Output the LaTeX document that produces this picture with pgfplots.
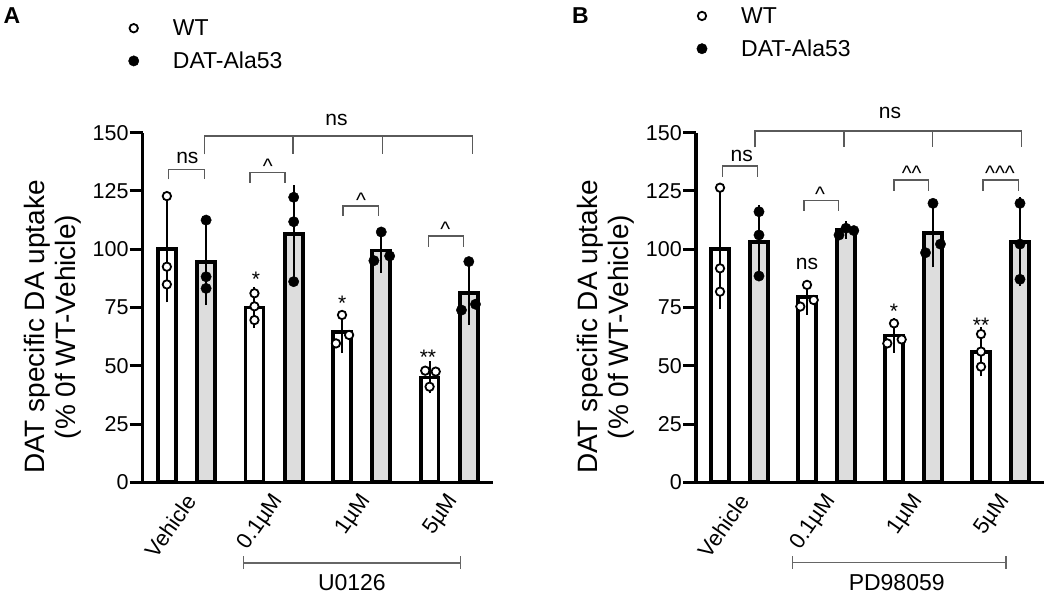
\documentclass[border=0pt]{standalone}
\usepackage{fontspec}
\setmainfont{Liberation Sans}
\usepackage{pgfplots}
\pgfplotsset{compat=1.18}
\definecolor{barGray}{HTML}{DDDDDD}
\definecolor{brk}{HTML}{5A5A5A}
\definecolor{grp}{HTML}{666666}

\pgfplotsset{
  panel/.style={
    scale only axis, height=349.6pt,
    xmin=-0.5, xmax=3.5, ymin=0, ymax=150,
    axis x line=bottom, axis y line=left,
    axis line style={line width=3.2pt, -},
    ytick={0,25,...,150},
    xtick={0,1,2,3},
    xticklabels={Vehicle,0.1µM,1µM,5µM},
    x tick style={draw=none},
    y tick style={line width=3pt, black},
    major tick length=13pt,
    tick align=outside,
    /pgf/number format/assume math mode=true,
    yticklabel style={font=\fontsize{21.5}{24}\selectfont, inner xsep=1pt},
    xticklabel style={font=\fontsize{22}{24}\selectfont, xshift=6pt, rotate=55, anchor=east, inner sep=2pt},
    clip=false,
    every axis y label/.style={rotate=90, anchor=center},
    ylabel style={align=center, font=\fontsize{28}{31}\selectfont},
    ylabel={DAT specific DA uptake\\(\% 0f WT-Vehicle)},
    legend style={draw=none, fill=none, anchor=north west, inner sep=0pt,
      font=\fontsize{23}{26}\selectfont, row sep=11pt,
      /tikz/every odd column/.append style={column sep=32pt}},
    legend cell align=left,
  },
  barbase/.style={ybar, bar width=0.205, bar shift=0, forget plot, draw=black, line width=3.8pt,
    error bars/y dir=both, error bars/y explicit,
    error bars/error bar style={line width=2pt, black},
    error bars/error mark options={line width=2pt, mark size=6pt, black}},
  wtpts/.style={only marks, mark=*, mark size=4.2pt, mark options={fill=white, draw=black, line width=1.8pt}},
  datpts/.style={only marks, mark=*, mark size=5.2pt, mark options={fill=black, draw=black, line width=0.4pt}},
}
\newcommand{\brk}[4]{\draw[brk, line width=1.4pt] (axis cs:#1,#4) -- (axis cs:#1,#3) -- (axis cs:#2,#3) -- (axis cs:#2,#4);}
\newcommand{\annfont}{\fontsize{21}{24}\selectfont}

\begin{document}
\begin{tikzpicture}
\path[use as bounding box] (0pt,0pt) rectangle (1050pt,-597pt);
\node[font=\fontsize{23}{26}\selectfont\bfseries] at (12pt,-15.5pt) {A};
\node[font=\fontsize{23}{26}\selectfont\bfseries] at (580.5pt,-15.5pt) {B};

% ---------------- Panel A ----------------
\begin{axis}[panel, width=350.3pt, at={(142.7pt,-482.3pt)}, anchor=south west,
  ylabel style={at={(axis description cs:-0.257,0.444)}},
  legend style={at={(axis description cs:-0.041,1.33)}}]
\addplot[barbase, fill=white] coordinates {(-0.224,100) +- (0,20.2) (0.776,75) +- (0,6.3) (1.776,64.5) +- (0,6.5) (2.776,45) +- (0,4.3)};
\addplot[barbase, fill=barGray] coordinates {(0.224,94.4) +- (0,15.8) (1.224,106.5) +- (0,18.3) (2.224,99.5) +- (0,7) (3.224,81.3) +- (0,11.2)};
\addplot[wtpts] coordinates {(-0.224,122.8) (-0.224,92.5) (-0.224,84.9)
  (0.776,81.1) (0.776,75.5) (0.776,69.6)
  (1.776,71.8) (1.707,59.6) (1.857,63.2)
  (2.726,47.9) (2.846,47.5) (2.776,41)};
\addlegendentry{WT}
\addplot[datpts] coordinates {(0.224,112.5) (0.224,88.2) (0.224,83.2)
  (1.224,122.3) (1.224,111.8) (1.224,86.1)
  (2.224,107.4) (2.14,95.1) (2.32,97.1)
  (3.224,94.7) (3.14,73.9) (3.30,76.4)};
\addlegendentry{DAT-Ala53}
% brackets
\brk{-0.208}{0.204}{134.3}{130}
\node[font=\annfont, anchor=base] at (axis cs:0.01,136.9) {ns};
\brk{0.204}{3.266}{148.6}{140.7}
\draw[brk, line width=1.4pt] (axis cs:1.215,148.6) -- (axis cs:1.215,140.7);
\draw[brk, line width=1.4pt] (axis cs:2.241,148.6) -- (axis cs:2.241,140.7);
\node[font=\annfont, anchor=base] at (axis cs:1.713,153.3) {ns};
\brk{0.726}{1.123}{132.8}{128.6}
\node[font=\annfont, anchor=base] at (axis cs:0.928,132.4) {\textasciicircum};
\brk{1.789}{2.191}{118.5}{114.4}
\node[font=\annfont, anchor=base] at (axis cs:1.992,118.1) {\textasciicircum};
\brk{2.765}{3.166}{105.7}{101.1}
\node[font=\annfont, anchor=base] at (axis cs:2.956,105.3) {\textasciicircum};
\node[font=\annfont, anchor=base] at (axis cs:0.794,84) {*};
\node[font=\annfont, anchor=base] at (axis cs:1.777,73.8) {*};
\node[font=\annfont, anchor=base] at (axis cs:2.757,50.7) {**};
% group line
\draw[grp, line width=1.5pt] (axis cs:0.649,-34.6) -- (axis cs:3.128,-34.6);
\draw[grp, line width=1.5pt] (axis cs:0.649,-31.8) -- (axis cs:0.649,-37.4);
\draw[grp, line width=1.5pt] (axis cs:3.128,-31.8) -- (axis cs:3.128,-37.4);
\node[font=\fontsize{23}{26}\selectfont] at (axis cs:1.889,-43) {U0126};
\end{axis}

% ---------------- Panel B ----------------
\begin{axis}[panel, width=348pt, at={(696pt,-482.3pt)}, anchor=south west,
  ylabel style={at={(axis description cs:-0.258,0.444)}},
  legend style={at={(axis description cs:0.0017,1.365)}}]
\addplot[barbase, fill=white] coordinates {(-0.224,100) +- (0,23.2) (0.776,79.4) +- (0,5) (1.776,63) +- (0,4.8) (2.776,56) +- (0,8)};
\addplot[barbase, fill=barGray] coordinates {(0.224,103) +- (0,13.5) (1.224,108.3) +- (0,1.2) (2.224,106.8) +- (0,12) (3.224,103.2) +- (0,16.5)};
\addplot[wtpts] coordinates {(-0.224,126.4) (-0.224,91.8) (-0.224,81.8)
  (0.776,84.7) (0.699,75.4) (0.853,78.2)
  (1.776,68.2) (1.699,59.6) (1.864,61.3)
  (2.776,63.6) (2.776,56.1) (2.776,49.6)};
\addlegendentry{WT}
\addplot[datpts] coordinates {(0.224,116.1) (0.224,106.1) (0.224,88.5)
  (1.144,106.1) (1.224,109) (1.314,108)
  (2.224,119.7) (2.138,98.5) (2.31,102.2)
  (3.224,119.7) (3.224,102.2) (3.224,87.1)};
\addlegendentry{DAT-Ala53}
\brk{-0.193}{0.205}{135.8}{131.1}
\node[font=\annfont, anchor=base] at (axis cs:0.025,137.6) {ns};
\brk{0.178}{3.24}{150.8}{143.7}
\draw[brk, line width=1.4pt] (axis cs:1.2,150.8) -- (axis cs:1.2,143.7);
\draw[brk, line width=1.4pt] (axis cs:2.216,150.8) -- (axis cs:2.216,143.7);
\node[font=\annfont, anchor=base] at (axis cs:1.73,156.2) {ns};
\brk{0.741}{1.14}{120.8}{116.5}
\node[font=\annfont, anchor=base] at (axis cs:0.925,120.4) {\textasciicircum};
\brk{1.776}{2.175}{129.7}{125.1}
\node[font=\annfont, anchor=base] at (axis cs:1.979,129.3) {\textasciicircum\textasciicircum};
\brk{2.80}{3.21}{129.7}{125.1}
\node[font=\annfont, anchor=base] at (axis cs:2.994,129.3) {\textasciicircum\textasciicircum\textasciicircum};
\node[font=\annfont, anchor=base] at (axis cs:0.776,91.1) {ns};
\node[font=\annfont, anchor=base] at (axis cs:1.776,70.3) {*};
\node[font=\annfont, anchor=base] at (axis cs:2.776,64.1) {**};
\draw[grp, line width=1.5pt] (axis cs:0.611,-34.5) -- (axis cs:3.063,-34.5);
\draw[grp, line width=1.5pt] (axis cs:0.611,-31.7) -- (axis cs:0.611,-37.3);
\draw[grp, line width=1.5pt] (axis cs:3.063,-31.7) -- (axis cs:3.063,-37.3);
\node[font=\fontsize{23}{26}\selectfont] at (axis cs:1.807,-43) {PD98059};
\end{axis}
\end{tikzpicture}
\end{document}
